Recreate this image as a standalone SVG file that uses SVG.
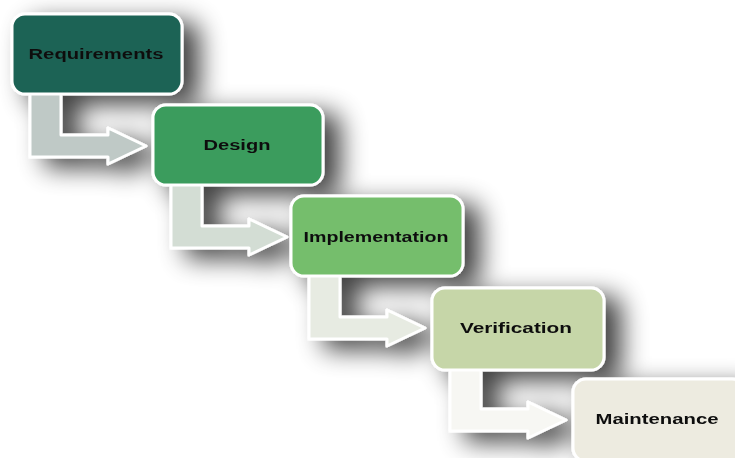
<svg xmlns="http://www.w3.org/2000/svg" width="735" height="458" viewBox="0 0 735 458">
  <defs>
    <filter id="shadow" x="-20%" y="-20%" width="150%" height="150%">
      <feGaussianBlur in="SourceAlpha" stdDeviation="13" result="blur"/>
      <feOffset in="blur" dx="16" dy="9" result="off"/>
      <feComponentTransfer in="off" result="soft">
        <feFuncA type="linear" slope="0.75"/>
      </feComponentTransfer>
      <feMerge>
        <feMergeNode in="soft"/>
        <feMergeNode in="SourceGraphic"/>
      </feMerge>
    </filter>
    <!-- bent step arrow, relative to the origin of the box it leaves -->
    <path id="bend" d="M18,78 L18,143 L96,143 L96,150 L134,132 L96,114 L96,121 L49,121 L49,78 Z"/>
  </defs>
  <style>
    .box { stroke: #ffffff; stroke-width: 3; }
    .arrow { stroke: #ffffff; stroke-width: 3; stroke-linejoin: round; }
    .label { font-family: "Liberation Sans", Arial, sans-serif; font-size: 14px; font-weight: bold; fill: #111111; text-anchor: middle; }
  </style>
  <rect width="735" height="458" fill="#ffffff"/>

  <g filter="url(#shadow)">
    <g id="connectors">
      <use href="#bend" class="arrow" x="12" y="14" fill="#bfc9c6"/>
      <use href="#bend" class="arrow" x="153" y="105" fill="#d3ddd4"/>
      <use href="#bend" class="arrow" x="291" y="196" fill="#e7ebe2"/>
      <use href="#bend" class="arrow" x="432" y="288" fill="#f7f7f3"/>
    </g>

    <g id="requirements">
      <rect class="box" x="12" y="14" width="170" height="80" rx="13" fill="#1e6355"/>
      <text class="label" x="96" y="59" textLength="135" lengthAdjust="spacingAndGlyphs">Requirements</text>
    </g>
    <g id="design">
      <rect class="box" x="153" y="105" width="170" height="80" rx="13" fill="#3a9c5d"/>
      <text class="label" x="237" y="150" textLength="67" lengthAdjust="spacingAndGlyphs">Design</text>
    </g>
    <g id="implementation">
      <rect class="box" x="291" y="196" width="172" height="80" rx="13" fill="#74be6c"/>
      <text class="label" x="376" y="242" textLength="145" lengthAdjust="spacingAndGlyphs">Implementation</text>
    </g>
    <g id="verification">
      <rect class="box" x="432" y="288" width="172" height="82" rx="13" fill="#c6d6a8"/>
      <text class="label" x="516" y="333" textLength="112" lengthAdjust="spacingAndGlyphs">Verification</text>
    </g>
    <g id="maintenance">
      <rect class="box" x="573" y="379" width="172" height="82" rx="13" fill="#edebe0"/>
      <text class="label" x="657" y="424" textLength="123" lengthAdjust="spacingAndGlyphs">Maintenance</text>
    </g>
  </g>
</svg>
